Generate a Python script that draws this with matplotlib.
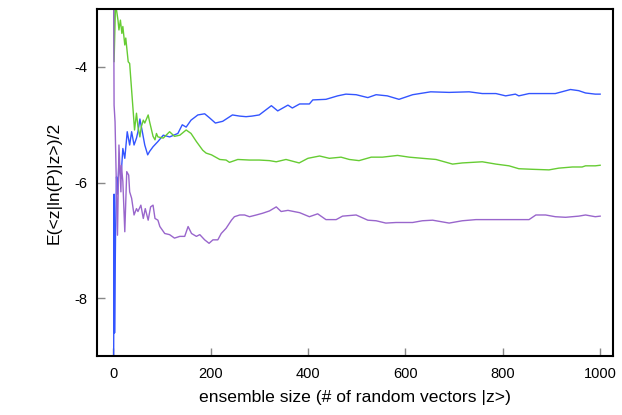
from matplotlib import pyplot as plt

plt.rcParams['font.family'] = ['Liberation Sans', 'DejaVu Sans']
plt.rcParams['axes.unicode_minus'] = False

# values
n_blue = [1, 2, 3, 5, 7, 9, 12, 16, 20, 24, 29, 34, 38, 43, 48, 51, 55, 60, 65, 71, 75, 82, 92, 103,
          116, 133, 142, 150, 160, 174, 188, 198, 210, 225, 245, 260, 273, 285, 300, 325, 338, 359,
          368, 383, 403, 410, 437, 461, 478, 499, 523, 540, 563, 587, 615, 652, 690, 731, 758, 786,
          806, 826, 833, 854, 895, 908, 939, 956, 970, 990, 1000]
e_blue = [-9.6, -6.2, -8.6, -6.9, -5.9, -6.2, -5.64, -5.93, -5.41, -5.58, -5.12, -5.35, -5.12, -5.35,
          -5.23, -5.12, -4.9, -5.12, -5.35, -5.52, -5.46, -5.38, -5.29, -5.18, -5.21, -5.15, -5.0,
          -5.04, -4.92, -4.83, -4.81, -4.88, -4.97, -4.94, -4.83, -4.85, -4.86, -4.85, -4.83, -4.67,
          -4.76, -4.66, -4.71, -4.64, -4.64, -4.57, -4.56, -4.50, -4.47, -4.48, -4.53, -4.48, -4.50,
          -4.56, -4.48, -4.43, -4.44, -4.43, -4.46, -4.46, -4.50, -4.47, -4.50, -4.46, -4.46, -4.46,
          -4.39, -4.41, -4.45, -4.47, -4.47]

n_green = [1, 2, 5, 10, 12, 15, 18, 20, 24, 26, 31, 34, 38, 41, 44, 48, 51, 55, 58, 62, 65, 72, 75,
           82, 86, 89, 92, 103, 116, 126, 137, 150, 160, 171, 184, 191, 202, 219, 232, 239, 256, 280,
           300, 321, 335, 355, 382, 400, 424, 444, 468, 485, 505, 530, 553, 584, 608, 635, 663, 697,
           717, 758, 786, 813, 833, 861, 895, 915, 943, 963, 970, 990, 1000]
e_green = [-2.5, -3.91, -2.9, -3.19, -3.36, -3.19, -3.42, -3.30, -3.62, -3.50, -3.91, -3.94, -4.40,
           -4.74, -5.09, -4.80, -5.03, -5.21, -5.03, -4.92, -4.97, -4.83, -4.95, -5.2, -5.26, -5.15,
           -5.21, -5.23, -5.12, -5.20, -5.18, -5.09, -5.15, -5.29, -5.44, -5.49, -5.52, -5.60, -5.61,
           -5.65, -5.60, -5.61, -5.61, -5.62, -5.64, -5.60, -5.66, -5.58, -5.54, -5.58, -5.56, -5.60,
           -5.62, -5.56, -5.56, -5.53, -5.56, -5.58, -5.60, -5.68, -5.66, -5.64, -5.68, -5.71, -5.76,
           -5.77, -5.78, -5.75, -5.73, -5.73, -5.71, -5.71, -5.70]

n_purple = [1, 2, 4, 7, 9, 12, 16, 17, 20, 24, 28, 32, 34, 38, 43, 48, 51, 57, 62, 66, 72, 77, 82,
            86, 92, 96, 106, 116, 126, 137, 147, 154, 161, 171, 178, 188, 197, 205, 215, 222, 232,
            243, 249, 260, 270, 280, 294, 307, 321, 335, 345, 359, 383, 403, 420, 437, 458, 471, 499,
            523, 540, 560, 581, 615, 635, 656, 690, 717, 745, 772, 799, 826, 854, 868, 888, 908, 929,
            956, 970, 990, 1000]
e_purple = [-2.5, -4.66, -4.95, -6.16, -6.91, -5.35, -6.16, -5.70, -5.98, -6.85, -5.81, -5.87,
            -6.16, -6.27, -6.56, -6.45, -6.50, -6.39, -6.62, -6.45, -6.65, -6.42, -6.39, -6.62,
            -6.65, -6.76, -6.88, -6.90, -6.96, -6.93, -6.93, -6.76, -6.88, -6.93, -6.90, -6.99,
            -7.05, -6.99, -6.99, -6.88, -6.79, -6.65, -6.59, -6.56, -6.56, -6.59, -6.56, -6.53,
            -6.49, -6.42, -6.50, -6.48, -6.52, -6.59, -6.54, -6.64, -6.64, -6.58, -6.56, -6.65,
            -6.66, -6.70, -6.69, -6.69, -6.66, -6.65, -6.70, -6.66, -6.64, -6.64, -6.64, -6.64,
            -6.64, -6.56, -6.56, -6.59, -6.60, -6.58, -6.56, -6.59, -6.58]

x_ticks = [0, 200, 400, 600, 800, 1000]
y_ticks = [-4, -6, -8]

fig = plt.figure(figsize=(6.22, 4.15), dpi=100)
ax = fig.add_axes([0.156, 0.142, 0.830, 0.836])

ax.plot(n_blue, e_blue, color='#3355ff', lw=1.0)
ax.plot(n_green, e_green, color='#66cc33', lw=1.0)
ax.plot(n_purple, e_purple, color='#9966cc', lw=1.0)

ax.set_xlim(-33, 1027)
ax.set_ylim(-9, -3)
ax.set_xticks(x_ticks)
ax.set_yticks(y_ticks)
ax.tick_params(direction='in', length=6, width=1, color='#888888', labelsize=10.5,
               top=False, right=False)
ax.tick_params(axis='x', pad=8)
ax.tick_params(axis='y', pad=7)
for s in ax.spines.values():
    s.set_linewidth(1.5)

ax.set_xlabel('ensemble size (# of random vectors |z>)', fontsize=12.6, labelpad=6)
ax.set_ylabel('E(<z|ln(P)|z>)/2', fontsize=12.6, labelpad=9)

fig.savefig('out.png', dpi=100)
